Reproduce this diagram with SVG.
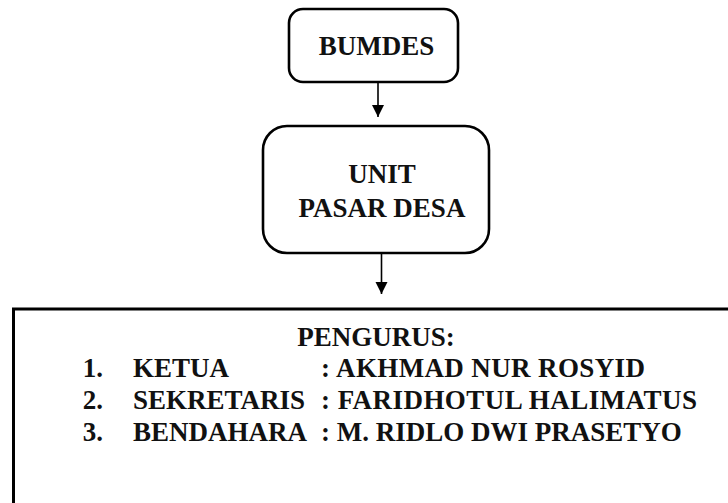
<svg xmlns="http://www.w3.org/2000/svg" width="728" height="503" viewBox="0 0 728 503">
<defs>
<style>
.box{fill:#fff;stroke:#000;stroke-width:2.6}
.big{fill:#fff;stroke:#000;stroke-width:3}
.t{font-family:"Liberation Serif","Times New Roman",serif;font-weight:700;font-size:27px;fill:#111}
.c{text-anchor:middle}
.e{text-anchor:end}
.line{stroke:#000;stroke-width:1.6;fill:none}
</style>
<marker id="arr" viewBox="0 0 12 12" refX="12" refY="6" markerWidth="12" markerHeight="13" markerUnits="userSpaceOnUse" orient="auto">
<path d="M0,0 L12,6 L0,12 Z" fill="#000"/>
</marker>
</defs>
<rect width="728" height="503" fill="#fff"/>
<g id="connectors">
<line class="line" x1="378" y1="82" x2="378" y2="117" marker-end="url(#arr)"/>
<line class="line" x1="381.5" y1="253" x2="381.5" y2="294" marker-end="url(#arr)"/>
</g>
<g id="bumdes">
<rect class="box" x="289" y="9" width="169" height="73" rx="14"/>
<text class="t c" x="376.5" y="55">BUMDES</text>
</g>
<g id="unit">
<rect class="box" x="263" y="126" width="226" height="127" rx="24"/>
<text class="t c" x="382" y="183">UNIT</text>
<text class="t c" x="382" y="217">PASAR DESA</text>
</g>
<g id="pengurus">
<rect class="big" x="13.5" y="309" width="740" height="220"/>
<text class="t c" x="376" y="346">PENGURUS:</text>
<text class="t e" x="103" y="377">1.</text>
<text class="t" x="133" y="377">KETUA</text>
<text class="t" x="321" y="377" textLength="324" lengthAdjust="spacing">: AKHMAD NUR ROSYID</text>
<text class="t e" x="103" y="409">2.</text>
<text class="t" x="133" y="409">SEKRETARIS</text>
<text class="t" x="321" y="409" textLength="376" lengthAdjust="spacing">: FARIDHOTUL HALIMATUS</text>
<text class="t e" x="103" y="441">3.</text>
<text class="t" x="133" y="441">BENDAHARA</text>
<text class="t" x="321" y="441">: M. RIDLO DWI PRASETYO</text>
</g>
</svg>
